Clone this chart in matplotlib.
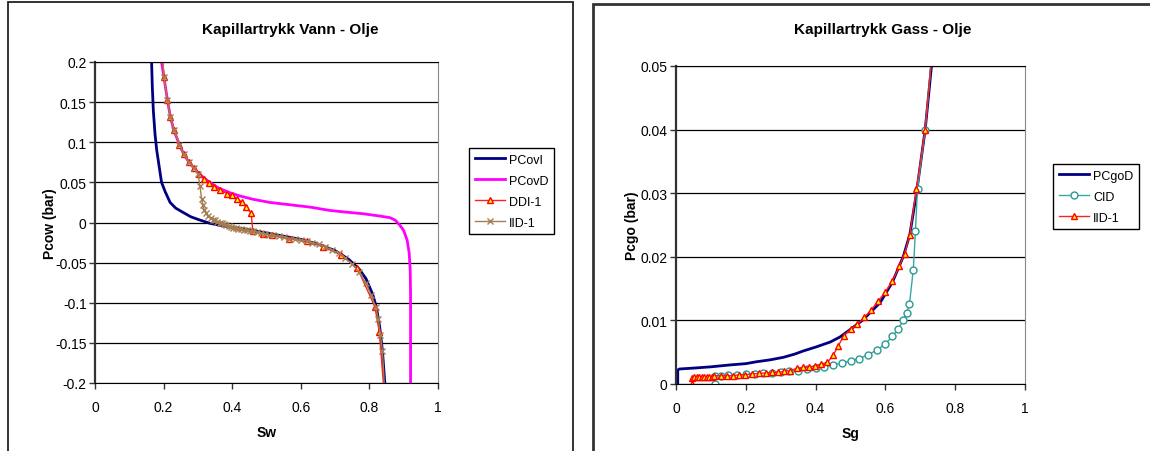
import matplotlib
matplotlib.use("Agg")
import matplotlib.pyplot as plt
from matplotlib.patches import Rectangle
from matplotlib.ticker import FuncFormatter

plt.rcParams["font.family"] = ["Liberation Sans", "DejaVu Sans"]

# ---- Kapillartrykk Vann - Olje ----
pcovi_sw = [0.165, 0.167, 0.170, 0.175, 0.180, 0.187, 0.194, 0.205, 0.219, 0.235, 0.257, 0.28, 0.306,
            0.335, 0.37, 0.40, 0.45, 0.50, 0.55, 0.60, 0.65, 0.70, 0.74, 0.77, 0.79, 0.81, 0.82, 0.83,
            0.838, 0.845]
pcovi_pc = [0.2, 0.17, 0.14, 0.11, 0.09, 0.07, 0.05, 0.038, 0.025, 0.018, 0.0125, 0.007, 0.003,
            -0.001, -0.004, -0.006, -0.009, -0.013, -0.017, -0.021, -0.027, -0.035, -0.046, -0.058,
            -0.07, -0.09, -0.105, -0.13, -0.16, -0.2]

pcovd_sw = [0.192, 0.194, 0.201, 0.211, 0.22, 0.23, 0.246, 0.259, 0.274, 0.289, 0.303, 0.319, 0.335,
            0.36, 0.394, 0.423, 0.46, 0.51, 0.57, 0.63, 0.685, 0.73, 0.78, 0.831, 0.86, 0.875, 0.888,
            0.9, 0.91, 0.916, 0.919, 0.92, 0.92]
pcovd_pc = [0.22, 0.2, 0.181, 0.153, 0.131, 0.115, 0.097, 0.085, 0.075, 0.0675, 0.061, 0.055, 0.05,
            0.043, 0.037, 0.033, 0.029, 0.025, 0.022, 0.019, 0.015, 0.013, 0.011, 0.008, 0.006, 0.003,
            -0.003, -0.01, -0.022, -0.038, -0.06, -0.09, -0.2]

ddi_sw = [0.196, 0.201, 0.211, 0.22, 0.231, 0.246, 0.259, 0.274, 0.289, 0.303, 0.319, 0.333, 0.348,
          0.364, 0.384, 0.398, 0.413, 0.43, 0.44, 0.455, 0.46, 0.491, 0.515, 0.566, 0.617, 0.664,
          0.716, 0.765, 0.816, 0.829, 0.85]
ddi_pc = [0.215, 0.181, 0.153, 0.131, 0.115, 0.097, 0.085, 0.075, 0.0675, 0.061, 0.054, 0.0496, 0.0446,
          0.041, 0.036, 0.034, 0.0296, 0.025, 0.0196, 0.012, -0.01, -0.014, -0.016, -0.02, -0.023, -0.03,
          -0.04, -0.057, -0.105, -0.137, -0.25]

iid_sw = [0.196, 0.201, 0.211, 0.22, 0.231, 0.246, 0.259, 0.274, 0.289, 0.301, 0.306, 0.311, 0.315,
          0.318, 0.324, 0.33, 0.337, 0.344, 0.35, 0.357, 0.363, 0.369, 0.376, 0.383, 0.39, 0.397,
          0.403, 0.41, 0.418, 0.426, 0.434, 0.442, 0.452, 0.462, 0.472, 0.483, 0.495, 0.507, 0.52,
          0.535, 0.55, 0.566, 0.583, 0.6, 0.617, 0.634, 0.652, 0.67, 0.69, 0.71, 0.73, 0.75, 0.77,
          0.79, 0.805, 0.818, 0.826, 0.832, 0.838, 0.85]
iid_pc = [0.215, 0.181, 0.153, 0.131, 0.115, 0.097, 0.085, 0.075, 0.0675, 0.06, 0.045, 0.029, 0.022,
          0.016, 0.012, 0.008, 0.0055, 0.0035, 0.0025, 0.001, 0.0, -0.001, -0.002, -0.003, -0.004,
          -0.005, -0.0066, -0.0072, -0.008, -0.0085, -0.009, -0.0096, -0.0105, -0.011, -0.012, -0.013,
          -0.014, -0.015, -0.016, -0.017, -0.018, -0.02, -0.021, -0.022, -0.023, -0.025, -0.027, -0.03,
          -0.034, -0.038, -0.044, -0.052, -0.062, -0.076, -0.09, -0.105, -0.12, -0.14, -0.16, -0.25]

# ---- Kapillartrykk Gass - Olje ----
pcgod_sg = [0.005, 0.005, 0.01, 0.05, 0.1, 0.155, 0.2, 0.231, 0.27, 0.308, 0.34, 0.365, 0.4, 0.442,
            0.47, 0.5, 0.534, 0.585, 0.62, 0.651, 0.67, 0.689, 0.714, 0.732, 0.74]
pcgod_pc = [0.0, 0.0022, 0.00236, 0.0025, 0.0027, 0.003, 0.0032, 0.0035, 0.0038, 0.0042, 0.0047, 0.0052,
            0.0058, 0.0066, 0.0074, 0.0086, 0.01, 0.0128, 0.016, 0.02, 0.0235, 0.03, 0.04, 0.05, 0.056]

cid_sg = [0.112, 0.112, 0.13, 0.15, 0.175, 0.2, 0.225, 0.25, 0.275, 0.3, 0.325, 0.35, 0.375, 0.4, 0.425,
          0.45, 0.475, 0.5, 0.525, 0.55, 0.575, 0.6, 0.62, 0.637, 0.651, 0.661, 0.669, 0.68, 0.686,
          0.692, 0.714, 0.74]
cid_pc = [0.0, 0.0013, 0.0013, 0.0014, 0.0014, 0.0015, 0.0016, 0.0017, 0.0018, 0.0019, 0.002, 0.0021,
          0.0023, 0.0025, 0.0027, 0.003, 0.0033, 0.0036, 0.004, 0.0046, 0.0053, 0.0063, 0.0075, 0.0087,
          0.01, 0.0112, 0.0126, 0.018, 0.024, 0.0307, 0.04, 0.056]

iid1_sg = [0.047, 0.047, 0.0526, 0.0593, 0.066, 0.0737, 0.0813, 0.088, 0.0947, 0.102, 0.11, 0.128,
           0.146, 0.164, 0.181, 0.199, 0.218, 0.237, 0.257, 0.276, 0.293, 0.31, 0.327, 0.346, 0.363,
           0.38, 0.399, 0.416, 0.434, 0.45, 0.465, 0.48, 0.5, 0.52, 0.54, 0.56, 0.58, 0.6, 0.62, 0.64,
           0.655, 0.67, 0.689, 0.714, 0.74]
iid1_pc = [0.0, 0.001, 0.00115, 0.00115, 0.00115, 0.00115, 0.00115, 0.00115, 0.00115, 0.00115, 0.0013,
           0.0013, 0.0013, 0.0013, 0.00147, 0.00147, 0.00157, 0.00168, 0.00173, 0.00184, 0.00184, 0.002,
           0.0021, 0.00246, 0.00262, 0.00262, 0.0029, 0.00314, 0.0034, 0.0045, 0.006, 0.0075, 0.0086,
           0.0094, 0.0105, 0.0117, 0.0131, 0.0145, 0.0162, 0.0185, 0.0205, 0.0235, 0.0307, 0.04, 0.056]

fig = plt.figure(figsize=(11.5, 4.52), dpi=100)

# chart frames (Excel style)
fig.patches.append(Rectangle((8 / 1150, -0.05), 565 / 1150, 1.05 - 3 / 452, transform=fig.transFigure,
                             fill=False, edgecolor="#222222", lw=1.3))
fig.patches.append(Rectangle((593 / 1150, -0.05), 0.6, 1.05 - 5 / 452, transform=fig.transFigure,
                             fill=False, edgecolor="#333333", lw=2))

fmt = FuncFormatter(lambda v, p: "{:g}".format(round(v, 4)))


def style(ax, yticks, ylabel, xlabel, ylab_x):
    ax.set_xlim(0, 1)
    ax.set_xticks([0, 0.2, 0.4, 0.6, 0.8, 1])
    ax.set_yticks(yticks)
    ax.set_ylim(yticks[0], yticks[-1])
    ax.xaxis.set_major_formatter(fmt)
    ax.yaxis.set_major_formatter(fmt)
    ax.tick_params(labelsize=10, direction="out", length=4, width=1, colors="#333333", labelcolor="black")
    ax.tick_params(axis="x", pad=8)
    ax.tick_params(axis="y", pad=2)
    ax.yaxis.grid(True, color="black", lw=0.9)
    ax.set_axisbelow(True)
    ax.spines["left"].set_color("#333333")
    ax.spines["left"].set_linewidth(1.6)
    ax.spines["bottom"].set_color("black")
    ax.spines["top"].set_color("black")
    ax.spines["right"].set_color("#888888")
    ax.set_ylabel(ylabel, fontsize=10, fontweight="bold")
    ax.yaxis.set_label_coords(ylab_x, 0.5)
    ax.set_xlabel(xlabel, fontsize=10, fontweight="bold", labelpad=8)


def legend(ax, x, y):
    ax.legend(loc="upper left", bbox_to_anchor=(x / 1150, 1 - y / 452), bbox_transform=fig.transFigure,
              fontsize=9, frameon=True, fancybox=False, edgecolor="black", framealpha=1,
              handlelength=2.4, handletextpad=0.35, borderpad=0.45, labelspacing=0.72, borderaxespad=0)


# left
ax1 = fig.add_axes([95 / 1150, 1 - 384 / 452, 343 / 1150, 321 / 452])
ax1.plot(pcovi_sw, pcovi_pc, color="#000080", lw=2, label="PCovI")
ax1.plot(pcovd_sw, pcovd_pc, color="#FF00FF", lw=2, label="PCovD")
ax1.plot(ddi_sw, ddi_pc, color="#FF2020", lw=1, marker="^", ms=5, mfc="#FFFF00", mec="#FF0000",
         mew=1, label="DDI-1")
ax1.plot(iid_sw, iid_pc, color="#A67C52", lw=1, marker="x", ms=4, mew=1, label="IID-1")
style(ax1, [-0.2, -0.15, -0.1, -0.05, 0, 0.05, 0.1, 0.15, 0.2], "Pcow (bar)", "Sw", -0.11)
fig.text(290 / 1150, 1 - 30 / 452, "Kapillartrykk Vann - Olje", ha="center", va="center",
         fontsize=11, fontweight="bold")
legend(ax1, 469, 149)

# right
ax2 = fig.add_axes([676 / 1150, 1 - 385 / 452, 349 / 1150, 318 / 452])
ax2.plot(pcgod_sg, pcgod_pc, color="#000080", lw=2, label="PCgoD")
ax2.plot(cid_sg, cid_pc, color="#3AA6A0", lw=1, marker="o", ms=5, mfc="white", mec="#2A9A94",
         mew=1, label="CID")
ax2.plot(iid1_sg, iid1_pc, color="#FF2020", lw=1, marker="^", ms=5, mfc="#FFFF00", mec="#FF0000",
         mew=1, label="IID-1")
style(ax2, [0, 0.01, 0.02, 0.03, 0.04, 0.05], "Pcgo (bar)", "Sg", -0.107)
fig.text(883 / 1150, 1 - 30 / 452, "Kapillartrykk Gass - Olje", ha="center", va="center",
         fontsize=11, fontweight="bold")
legend(ax2, 1053, 165)

fig.savefig("out.png", dpi=100)
